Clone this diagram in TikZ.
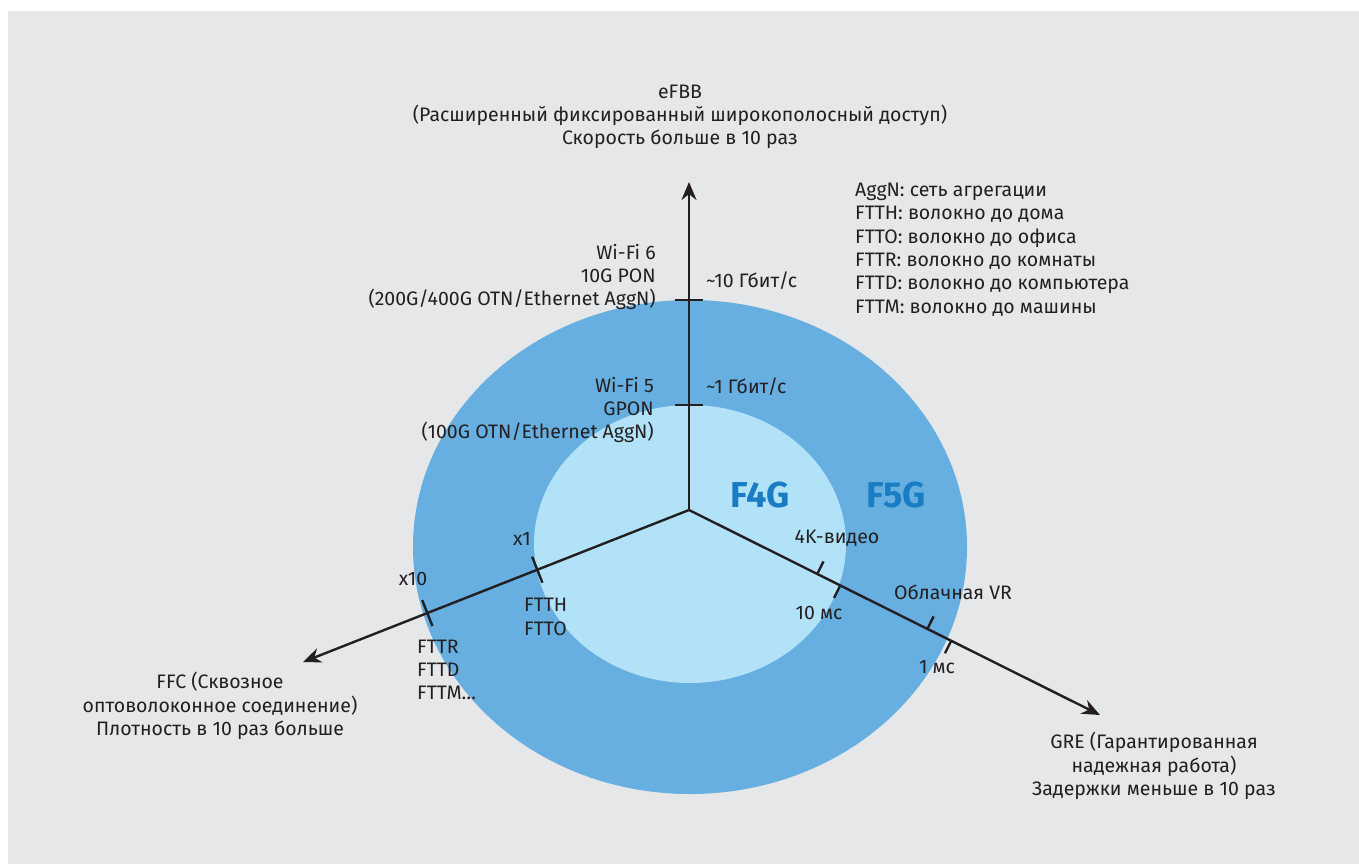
\documentclass[tikz,border=0pt]{standalone}
\usepackage{fontspec}
\setmainfont{Fira Sans}
\usepackage{xcolor}
\usetikzlibrary{arrows.meta,positioning,calc}
\definecolor{bggray}{HTML}{E6E7E9}
\definecolor{ringblue}{HTML}{66AFE0}
\definecolor{coreblue}{HTML}{B2E2F8}
\definecolor{genblue}{HTML}{1A7DC4}
\definecolor{inkgray}{HTML}{231F20}
\tikzset{
  arrowaxis/.style={-{Stealth[length=18pt,width=15pt]}, line width=2.4pt, draw=inkgray},
  axtick/.style={line width=2.4pt, draw=inkgray},
  txt/.style={text=inkgray, font=\fontsize{19.5}{23.3}\selectfont, inner sep=0pt},
  gentext/.style={text=genblue, font=\fontsize{36}{40}\selectfont\bfseries, inner sep=0pt}
}

\begin{document}
\begin{tikzpicture}[x=1pt,y=-1pt]
  \useasboundingbox (0,0) rectangle (1359,864);
  \fill[white] (0,0) rectangle (1359,864);
  \fill[bggray] (8,11) rectangle (1359,864);
  \fill[ringblue] (690,547) ellipse [x radius=277pt, y radius=247pt];
  \fill[coreblue] (690,544) ellipse [x radius=156pt, y radius=139pt];

  \coordinate (o) at (689,510);
  \coordinate (efbb) at (689,182);
  \coordinate (ffc) at (303,662);
  \coordinate (gre) at (1100,715);

  \draw[arrowaxis] (o) -- (efbb);
  \draw[arrowaxis] (o) -- (ffc);
  \draw[arrowaxis] (o) -- (gre);

  \path (o) -- (efbb) coordinate[pos=0.320] (g1) coordinate[pos=0.640] (g10);
  \path (o) -- (ffc) coordinate[pos=0.393] (x1) coordinate[pos=0.678] (x10);
  \path (o) -- (gre) coordinate[pos=0.312] (v4k) coordinate[pos=0.368] (ms10)
                     coordinate[pos=0.580] (vr) coordinate[pos=0.638] (ms1);

  \draw[axtick] ($(g1)+(-14,0)$) -- ($(g1)+(14,0)$);
  \draw[axtick] ($(g10)+(-14,0)$) -- ($(g10)+(14,0)$);
  \draw[axtick] ($(x1)!14pt!90:(ffc)$) -- ($(x1)!14pt!-90:(ffc)$);
  \draw[axtick] ($(x10)!14pt!90:(ffc)$) -- ($(x10)!14pt!-90:(ffc)$);
  \draw[axtick] (v4k) -- ($(v4k)!14pt!90:(gre)$);
  \draw[axtick] (ms10) -- ($(ms10)!14pt!-90:(gre)$);
  \draw[axtick] (vr) -- ($(vr)!14pt!90:(gre)$);
  \draw[axtick] (ms1) -- ($(ms1)!14pt!-90:(gre)$);

  \node[txt, align=center] (efbbtxt) at (680,117)
    {eFBB\\(Расширенный фиксированный широкополосный доступ)\\Скорость больше в 10 раз};
  \node[txt, align=left, anchor=west] (legend) at (855,249.5)
    {AggN: сеть агрегации\\FTTH: волокно до дома\\FTTO: волокно до офиса\\FTTR: волокно до комнаты\\FTTD: волокно до компьютера\\FTTM: волокно до машины};

  \node[txt, align=right, anchor=east] (wifi6) at (656,277)
    {Wi-Fi 6\\10G PON\\(200G/400G OTN/Ethernet AggN)};
  \node[txt, anchor=west] (gb10) at (706,281) {\textasciitilde 10 Гбит/с};
  \node[txt, align=right, anchor=east] (wifi5) at (654,410)
    {Wi-Fi 5\\GPON\\(100G OTN/Ethernet AggN)};
  \node[txt, anchor=west] (gb1) at (706,387) {\textasciitilde 1 Гбит/с};

  \node[gentext] (f4g) at (760,495) {F4G};
  \node[gentext] (f5g) at (896,495) {F5G};

  \node[txt] (vid) at (837,538) {4K-видео};
  \node[txt] (ms10txt) at (819,613) {10 мс};
  \node[txt] (vrtxt) at (953,592) {Облачная VR};
  \node[txt] (ms1txt) at (937,667) {1 мс};

  \node[txt] (x1txt) at (522,539) {x1};
  \node[txt] (x10txt) at (413,579) {x10};
  \node[txt, align=left, anchor=west] (ftth) at (524,617) {FTTH\\FTTO};
  \node[txt, align=left, anchor=west] (fttr) at (417,670) {FTTR\\FTTD\\FTTM…};

  \node[txt, align=center] (ffctxt) at (220,706)
    {FFC (Сквозное\\оптоволоконное соединение)\\Плотность в 10 раз больше};
  \node[txt, align=center] (gretxt) at (1154,766)
    {GRE (Гарантированная\\надежная работа)\\Задержки меньше в 10 раз};
\end{tikzpicture}
\end{document}
